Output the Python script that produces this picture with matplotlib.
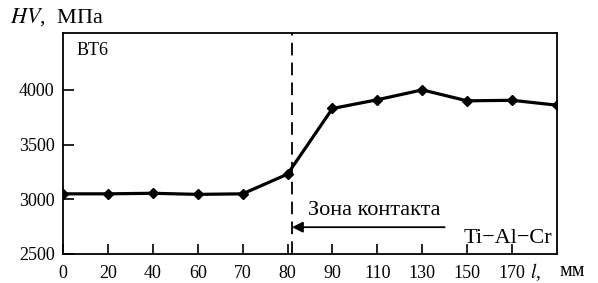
import matplotlib.pyplot as plt

plt.rcParams['font.family'] = ['Liberation Serif', 'DejaVu Serif']
plt.rcParams['mathtext.fontset'] = 'stix'

# distance along sample, mm (categorical axis, evenly spaced)
l_labels = ["0", "20", "40", "60", "70", "80", "90", "110", "130", "150", "170", ""]
hv = [3050, 3050, 3055, 3045, 3050, 3230, 3830, 3910, 4000, 3900, 3905, 3860]
y_ticks = [2500, 3000, 3500, 4000]

fig = plt.figure(figsize=(5.98, 2.83), dpi=100)
ax = fig.add_axes([63/598, 1-254/283, (557-63)/598, (254-33)/283])

x = list(range(len(hv)))
ax.plot(x, hv, color='black', lw=2.3, marker='D', ms=5.5, clip_on=True)

ax.set_xlim(0, len(hv) - 1)
ax.set_ylim(2500, 4520)
ax.set_xticks(x[:-1])
ax.set_xticklabels(l_labels[:-1], fontsize=13)
ax.set_yticks(y_ticks)
ax.set_yticklabels([str(v) for v in y_ticks], fontsize=13)
ax.tick_params(axis='x', direction='in', length=7, width=1.2, pad=8)
ax.tick_params(axis='y', direction='in', length=8, width=1.2, pad=6)
for s in ax.spines.values():
    s.set_linewidth(1.3)

# contact zone boundary
ax.axvline(5.1, color='black', lw=1.3, ls=(0, (7, 4)))
ax.annotate("", xy=(5.1, 2745), xytext=(8.5, 2745),
            arrowprops=dict(arrowstyle='-|>', color='black', lw=1.3,
                            mutation_scale=16, shrinkA=0, shrinkB=0))
ax.text(5.45, 2895, "Зона контакта", fontsize=16, va='center', ha='left')
ax.text(10.9, 2640, "Ti−Al−Cr", fontsize=16, va='center', ha='right')
ax.text(0.3, 4360, "BT6", fontsize=13, va='center', ha='left')

fig.text(10/598, 1-17/283, r"$HV$,  МПа", fontsize=16, va='center', ha='left')
fig.text(530/598, 1-272/283, r"$l$,", fontsize=14, va='center', ha='left')
fig.text(559/598, 1-271/283, "мм", fontsize=14.5, va='center', ha='left')

fig.savefig("out.png", dpi=100)
